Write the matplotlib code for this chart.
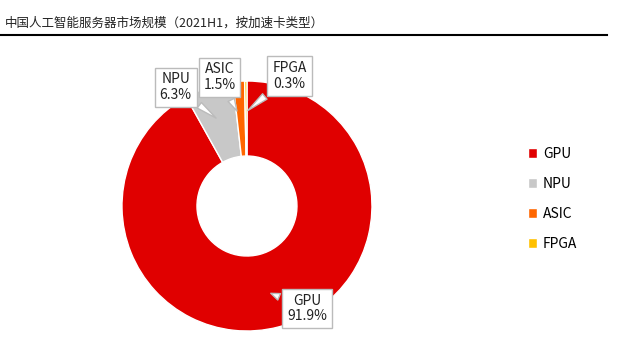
import matplotlib
matplotlib.use("Agg")
import matplotlib.pyplot as plt

plt.rcParams['font.family'] = ['Noto Sans CJK SC', 'DejaVu Sans']

categories = ['GPU', 'NPU', 'ASIC', 'FPGA']
shares = [91.9, 6.3, 1.5, 0.3]
colors = ['#E00000', '#C8C8C8', '#FF6600', '#FFC000']
title = '中国人工智能服务器市场规模（2021H1，按加速卡类型）'

fig = plt.figure(figsize=(6.4, 3.55), dpi=100)

# title and rule under it
fig.text(0.008, 0.935, title, fontsize=9, color='#222222', va='center')
fig.add_artist(plt.Line2D([0, 0.948], [0.902, 0.902], color='black', lw=1.5))

ax = fig.add_axes([0.1906, 0.0676, 0.3906, 0.7042])
wedges, _ = ax.pie(shares, colors=colors, startangle=90, counterclock=False,
                   radius=1, wedgeprops=dict(width=0.6, edgecolor='white', linewidth=1))
ax.set_xlim(-1, 1)
ax.set_ylim(-1, 1)
ax.set_aspect('equal')
ax.axis('off')

# callout labels (text position, pointer target) in data units
label_pos = [(0.48, -0.82), (-0.57, 0.95), (-0.22, 1.03), (0.34, 1.04)]
pointer = [(0.17, -0.69), (-0.23, 0.69), (-0.07, 0.74), (-0.01, 0.75)]
for name, v, pos, tip in zip(categories, shares, label_pos, pointer):
    ax.annotate(f'{name}\n{v}%', xy=tip, xytext=pos, ha='center', va='center',
                fontsize=10, color='#222222', linespacing=1.15, annotation_clip=False,
                bbox=dict(boxstyle='square,pad=0.35', fc='white', ec='#BBBBBB', lw=1),
                arrowprops=dict(arrowstyle='wedge,tail_width=0.5,shrink_factor=0.5',
                                fc='white', ec='#BBBBBB', lw=1))

fig.legend(wedges, categories, loc='center left', bbox_to_anchor=(0.805, 0.44),
           frameon=False, fontsize=10, handlelength=0.7, handleheight=0.7,
           labelspacing=1.15, handletextpad=0.4)

fig.savefig('out.png', dpi=100)
